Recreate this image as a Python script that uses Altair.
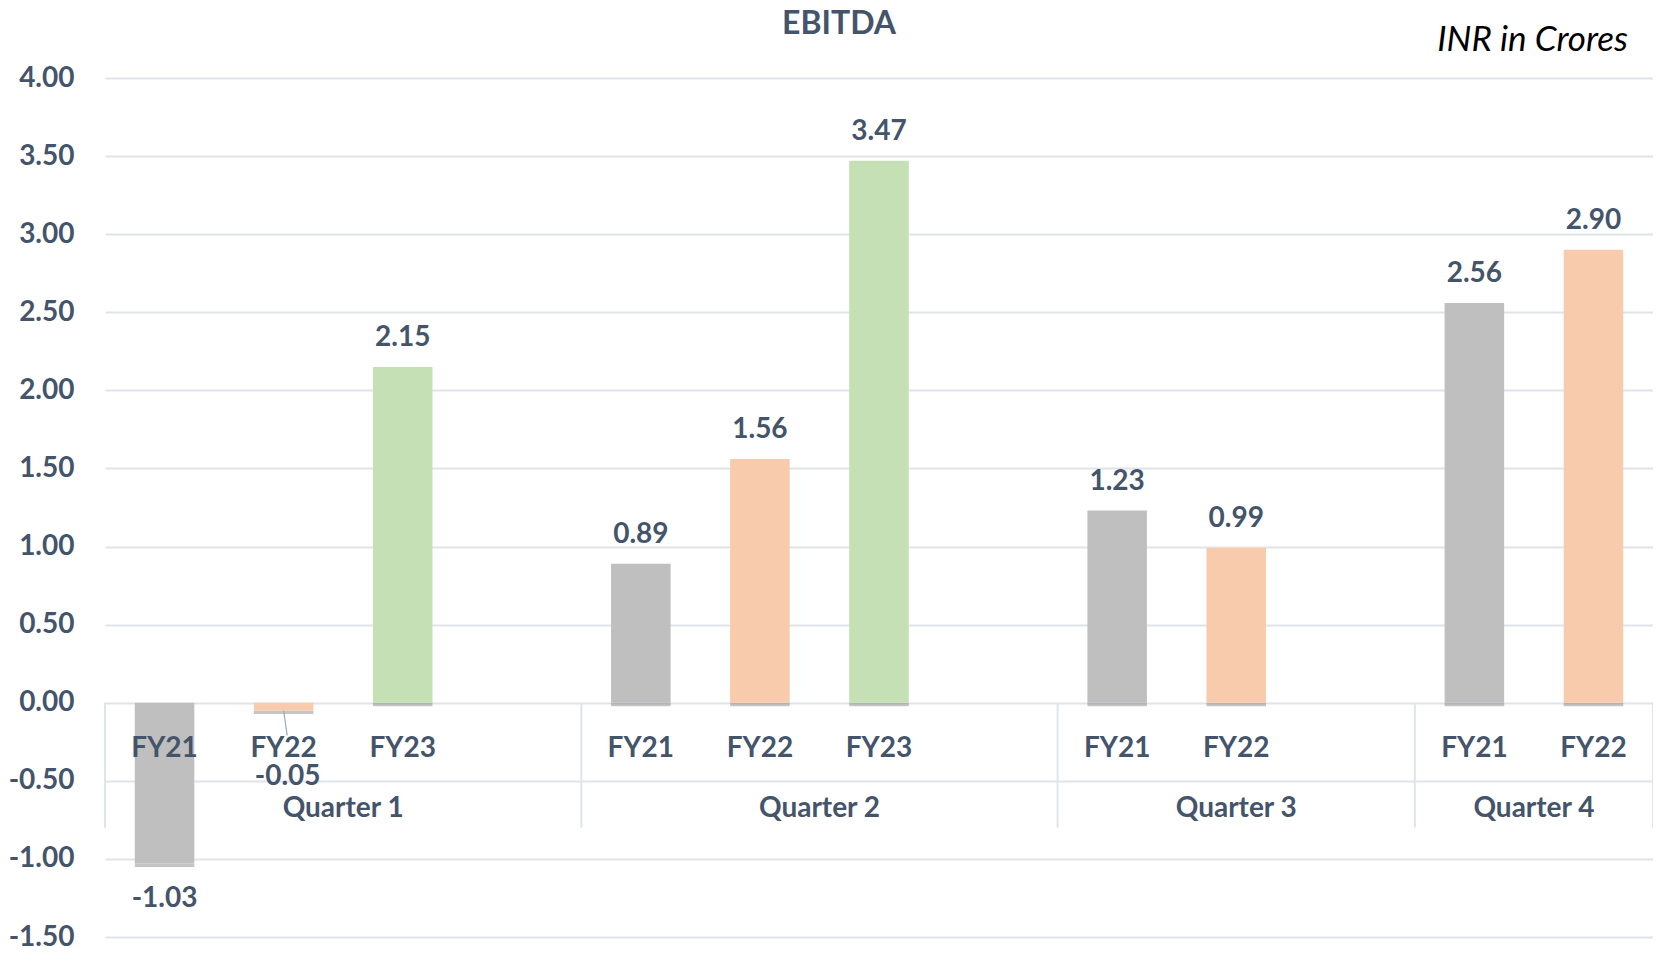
import altair as alt
import pandas as pd

# ---- data ----
quarters = ["Quarter 1", "Quarter 2", "Quarter 3", "Quarter 4"]
# category slots per quarter (blank "" = empty category slot as in the source chart)
fy_slots = [["FY21", "FY22", "FY23", ""],
            ["FY21", "FY22", "FY23", ""],
            ["FY21", "FY22", ""],
            ["FY21", "FY22"]]
ebitda = [[-1.03, -0.05, 2.15],
          [0.89, 1.56, 3.47],
          [1.23, 0.99],
          [2.56, 2.90]]
y_ticks = [-1.5, -1.0, -0.5, 0.0, 0.5, 1.0, 1.5, 2.0, 2.5, 3.0, 3.5, 4.0]
fy_names = ["FY21", "FY22", "FY23"]
fy_colors = ["#BFBFBF", "#F8CBAD", "#C5E0B4"]

TXT = "#44546A"
GRID = "#DFE4EB"
FONT = "Lato"
AXIS_DEPTH = -0.8

rows, groups = [], []
idx = 0
for q, slots, vals in zip(quarters, fy_slots, ebitda):
    start = idx
    vi = 0
    for s in slots:
        if s:
            v = vals[vi]
            vi += 1
            rows.append(dict(quarter=q, fy=s, pos=idx, value=v,
                             lo=idx - 0.25, hi=idx + 0.25,
                             label=f"{v:.2f}", zero=0.0,
                             sb=min(v, 0.0), sb2=min(v, 0.0) - 0.022))
        idx += 1
    end = idx - 1
    groups.append(dict(quarter=q, center=(start + end) / 2, left=start - 0.5,
                       right=end + 0.5, zero=0.0))
df = pd.DataFrame(rows)
gdf = pd.DataFrame(groups)
seps = sorted(set(gdf["left"]).union(set(gdf["right"])))
sdf = pd.DataFrame({"x": seps, "zero": 0.0, "depth": AXIS_DEPTH})

xscale = alt.Scale(domain=[-0.5, idx - 0.5], nice=False, zero=False)
yscale = alt.Scale(domain=[-1.5, 4.0], nice=False, zero=False)
yaxis = alt.Axis(values=y_ticks, grid=True, gridColor=GRID, gridWidth=2,
                 domain=False, ticks=False, labelFont=FONT, labelFontSize=28,
                 labelFontWeight="bold", labelColor=TXT, labelPadding=31,
                 labelExpr="datum.value < 0 ? '-' + format(-datum.value, '.2f') : format(datum.value, '.2f')")


def Y(field):
    return alt.Y(field, type="quantitative", scale=yscale, axis=yaxis, title=None)


def X(field):
    return alt.X(field, type="quantitative", scale=xscale, axis=None, title=None)


base = alt.Chart(df)

shadow = base.mark_bar(color="#595959", opacity=0.35).encode(
    x=X("lo"), x2="hi", y=Y("sb"), y2="sb2")

bars = base.mark_bar().encode(
    x=X("lo"), x2="hi", y=Y("value"), y2=alt.datum(0),
    color=alt.Color("fy:N", scale=alt.Scale(domain=fy_names, range=fy_colors), legend=None))

txt_kw = dict(font=FONT, fontSize=28, fontWeight="bold", color=TXT,
              align="center", baseline="middle")

pos_lbl = base.transform_filter("datum.value >= 0").mark_text(dy=-29, **txt_kw).encode(
    x=X("pos"), y=Y("value"), text="label:N")
neg_lbl = base.transform_filter("datum.value < -0.5").mark_text(dy=35, **txt_kw).encode(
    x=X("pos"), y=Y("value"), text="label:N")
small_lbl = base.transform_filter("datum.value < 0 && datum.value >= -0.5").mark_text(
    dy=66, dx=4, **txt_kw).encode(x=X("pos"), y=Y("value"), text="label:N")

leader = base.transform_filter("datum.value < 0 && datum.value >= -0.5").transform_calculate(
    ly2="datum.value - 0.16", lx2="datum.pos + 0.03").mark_rule(
    color="#9AA8B8", strokeWidth=1.2).encode(x=X("pos"), x2="lx2:Q", y=Y("value"), y2="ly2:Q")

fy_lbl = base.mark_text(dy=46, **txt_kw).encode(x=X("pos"), y=Y("zero"), text="fy:N")
q_lbl = alt.Chart(gdf).mark_text(dy=106, **txt_kw).encode(
    x=X("center"), y=Y("zero"), text="quarter:N")

sep = alt.Chart(sdf).mark_rule(color=GRID, strokeWidth=2).encode(
    x=X("x"), y=Y("zero"), y2="depth:Q")

title = alt.Chart(pd.DataFrame({"t": ["EBITDA"]})).mark_text(
    font=FONT, fontSize=32, fontWeight="bold", color=TXT, align="center",
    baseline="middle").encode(x=alt.value(734), y=alt.value(-54), text="t:N")
unit = alt.Chart(pd.DataFrame({"t": ["INR in Crores"]})).mark_text(
    font=FONT, fontSize=35, fontStyle="italic", color="#000000", align="right",
    baseline="middle").encode(x=alt.value(1523), y=alt.value(-38), text="t:N")

chart = alt.layer(sep, shadow, bars, leader, pos_lbl, neg_lbl, small_lbl, fy_lbl, q_lbl,
                  title, unit).properties(
    width=1548, height=859,
    autosize=alt.AutoSizeParams(type="none"),
    padding={"left": 97, "top": 70, "right": 0, "bottom": 10},
).configure_view(stroke=None)

chart.save("out.html", embed_options={"renderer": "svg", "actions": False})
